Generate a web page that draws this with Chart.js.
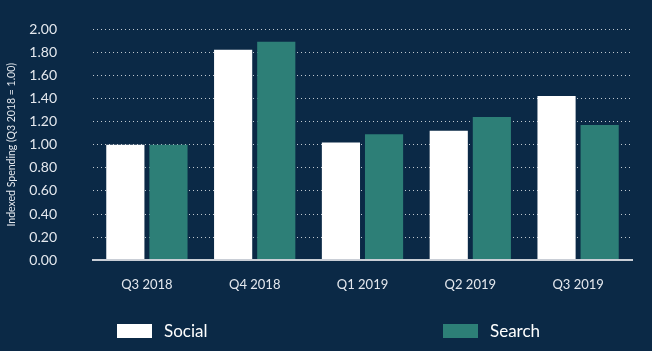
<!DOCTYPE html>
<html>
<head>
<meta charset="utf-8">
<script src="https://cdn.jsdelivr.net/npm/chart.js@4/dist/chart.umd.min.js"></script>
<style>
  html, body { margin: 0; padding: 0; background: #0b2946; }
  #wrap { position: relative; width: 652px; height: 351px; }
  #legend { position: absolute; left: 0; top: 320px; width: 652px; height: 24px; font-family: Lato, sans-serif; font-size: 17px; color: #ffffff; }
  .item { position: absolute; top: 0; line-height: 22px; }
  .box { position: absolute; top: 4px; width: 35px; height: 14px; }
  .lbl { position: absolute; left: 47px; top: 0; white-space: nowrap; }
</style>
</head>
<body>
<div id="wrap">
  <canvas id="myChart" width="652" height="351"></canvas>
  <div id="legend"></div>
</div>
<script>
var quarters = ["Q3 2018", "Q4 2018", "Q1 2019", "Q2 2019", "Q3 2019"];
var social = [1.00, 1.82, 1.02, 1.12, 1.42];
var search = [1.00, 1.89, 1.09, 1.24, 1.17];
var seriesNames = ["Social", "Search"];
var seriesColors = ["#ffffff", "#2d7f77"];
var legendLeft = [117, 443];

var textColor = "#e4e8ee";

var ctx = document.getElementById("myChart");
var myChart = new Chart(ctx, {
  type: 'bar',
  data: {
    labels: quarters,
    datasets: [{
      label: seriesNames[0],
      data: social,
      backgroundColor: seriesColors[0],
      borderWidth: 0
    }, {
      label: seriesNames[1],
      data: search,
      backgroundColor: seriesColors[1],
      borderWidth: 0
    }]
  },
  options: {
    responsive: false,
    animation: false,
    layout: {
      padding: { left: 0, right: 20, top: 29, bottom: 41 }
    },
    datasets: {
      bar: { categoryPercentage: 0.8, barPercentage: 0.885 }
    },
    plugins: {
      legend: { display: false },
      tooltip: { enabled: false }
    },
    scales: {
      x: {
        grid: { display: false, drawTicks: false },
        border: { display: true, color: "#c9ced6", width: 2, z: 1 },
        ticks: {
          color: textColor,
          padding: 17,
          font: { family: "Lato", size: 13 }
        }
      },
      y: {
        min: 0,
        max: 2,
        afterFit: function(scale) {
          // tick padding is horizontal here, don't let it eat the top
          scale.width = 93;
          scale.paddingTop = 8;
          scale.paddingBottom = 8;
        },
        grid: {
          color: function(c) { return c.tick.value === 0 ? "rgba(0,0,0,0)" : "rgba(255,255,255,0.75)"; },
          lineWidth: 1,
          drawTicks: false
        },
        border: { display: false, dash: [1, 3] },
        ticks: {
          stepSize: 0.2,
          color: textColor,
          padding: 36,
          font: { family: "Lato", size: 14 }
        },
        title: {
          display: true,
          text: "Indexed Spending (Q3 2018 = 1.00)",
          color: textColor,
          padding: { top: 5, bottom: 0 },
          font: { family: "Lato", size: 10.5 }
        }
      }
    }
  }
});
myChart.options.scales.y.ticks.callback = function(v) { return v.toFixed(2); };
myChart.update();

// html legend built from the datasets
var legend = document.getElementById("legend");
myChart.data.datasets.forEach(function(ds, i) {
  var item = document.createElement("div");
  item.className = "item";
  item.style.left = legendLeft[i] + "px";
  item.innerHTML = '<span class="box" style="background:' + ds.backgroundColor + '"></span><span class="lbl">' + ds.label + '</span>';
  legend.appendChild(item);
});
</script>
</body>
</html>
